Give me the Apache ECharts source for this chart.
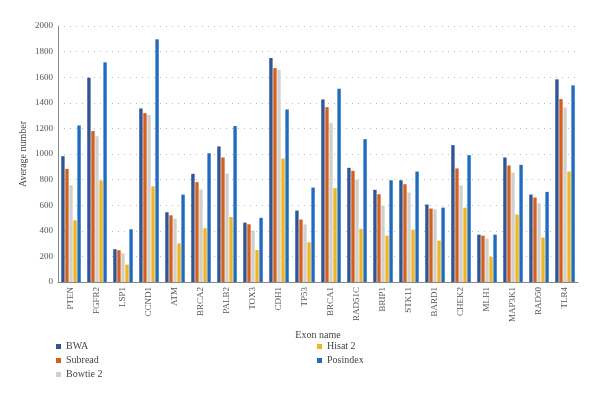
<!DOCTYPE html>
<html>
<head>
<meta charset="utf-8">
<script src="https://cdn.jsdelivr.net/npm/echarts@6/dist/echarts.min.js"></script>
<style>
  html, body { margin: 0; padding: 0; background: #fff; }
  #main { width: 600px; height: 398px; }
</style>
</head>
<body>
<div id="main"></div>
<script>
// exon names on the x axis
var exons = ['PTEN', 'FGFR2', 'LSP1', 'CCND1', 'ATM', 'BRCA2', 'PALB2', 'TOX3', 'CDH1', 'TP53',
    'BRCA1', 'RAD51C', 'BRIP1', 'STK11', 'BARD1', 'CHEK2', 'MLH1', 'MAP3K1', 'RAD50', 'TLR4'];

// average number per aligner
var bwa = [983, 1596, 256, 1356, 545, 845, 1059, 464, 1750, 558, 1426, 892, 720, 795, 605, 1069, 370, 973, 683, 1583];
var subread = [884, 1179, 248, 1319, 521, 780, 973, 451, 1671, 488, 1366, 868, 686, 764, 574, 887, 362, 910, 660, 1429];
var bowtie2 = [756, 1139, 224, 1306, 495, 722, 847, 402, 1658, 451, 1241, 800, 595, 699, 568, 754, 339, 855, 615, 1364];
var hisat2 = [482, 793, 136, 748, 302, 420, 508, 250, 965, 310, 733, 415, 362, 409, 323, 581, 196, 527, 347, 863];
var posindex = [1223, 1716, 412, 1896, 683, 1006, 1218, 501, 1348, 738, 1510, 1116, 795, 863, 581, 991, 370, 915, 704, 1536];

var font = 'Liberation Serif';
var chart = echarts.init(document.getElementById('main'));

function bar(name, data) {
    return { name: name, type: 'bar', data: data,
        barGap: '20%', barCategoryGap: '25%' };
}

var legendText = { fontFamily: font, fontSize: 10, color: '#444', lineHeight: 11 };

chart.setOption({
    animation: false,
    textStyle: { fontFamily: font },
    color: ['#2F5597', '#D4601A', '#D0D0D0', '#F0B520', '#1F6BC0'],
    grid: { left: 58, right: 22, top: 26, bottom: 116 },
    legend: [
        { data: ['BWA', 'Subread', 'Bowtie 2'], orient: 'vertical', left: 54, top: 339,
          itemWidth: 5, itemHeight: 5, itemGap: 3, icon: 'rect', padding: 2,
          textStyle: legendText },
        { data: ['Hisat 2', 'Posindex'], orient: 'vertical', left: 315, top: 339,
          itemWidth: 5, itemHeight: 5, itemGap: 3, icon: 'rect', padding: 2,
          textStyle: legendText }
    ],
    xAxis: {
        type: 'category', data: exons,
        name: 'Exon name', nameLocation: 'middle', nameGap: 46,
        nameTextStyle: { fontFamily: font, fontSize: 10, color: '#444' },
        axisLine: { lineStyle: { color: '#888' } },
        axisTick: { show: false },
        axisLabel: { rotate: 90, interval: 0, fontFamily: font, fontSize: 9, color: '#555', margin: 5 }
    },
    yAxis: {
        type: 'value', min: 0, max: 2000, interval: 200,
        name: 'Average number', nameLocation: 'middle', nameGap: 30, nameMoveOverlap: false,
        nameTextStyle: { fontFamily: font, fontSize: 10, color: '#444' },
        axisLine: { show: true, lineStyle: { color: '#888' } },
        axisTick: { show: false },
        axisLabel: { fontFamily: font, fontSize: 9, color: '#555', margin: 5,
            formatter: function (v) { return String(v); } },
        splitLine: { lineStyle: { color: '#bbb', type: [1, 5] } }
    },
    series: [
        bar('BWA', bwa),
        bar('Subread', subread),
        bar('Bowtie 2', bowtie2),
        bar('Hisat 2', hisat2),
        bar('Posindex', posindex)
    ]
});
</script>
</body>
</html>
